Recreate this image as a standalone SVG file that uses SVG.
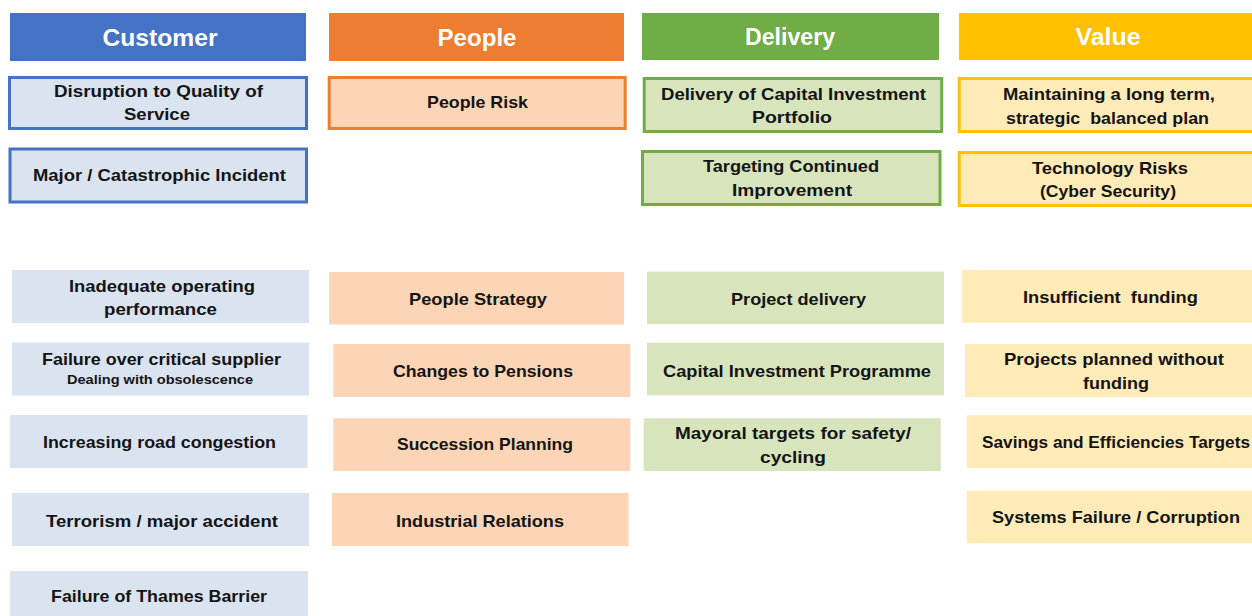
<svg xmlns="http://www.w3.org/2000/svg" width="1252" height="616" viewBox="0 0 1252 616">
<style>
text{font-family:"Liberation Sans",Arial,sans-serif;font-weight:bold;text-anchor:middle;fill:#141414;font-size:17px}
.h{fill:#fff;font-size:24px}
.sm{font-size:13px}
.pre{white-space:pre}
.hc{fill:#4472C4}.hp{fill:#ED7D31}.hd{fill:#70AD47}.hv{fill:#FFC000}
.fc{fill:#DAE3F0}.fp{fill:#FBD5B5}.fd{fill:#D8E4BC}.fv{fill:#FFEBB8}
.oc{stroke:#4472C4;stroke-width:3}.op{stroke:#ED7D31;stroke-width:3}.od{stroke:#70AD47;stroke-width:3}.ov{stroke:#FFC000;stroke-width:3}
</style>
<rect width="1252" height="616" fill="#fff"/>
<g id="headers">
<g id="h-customer"><rect class="hc" x="10" y="13" width="296" height="48"/><text class="h" x="160" y="46" textLength="115" lengthAdjust="spacingAndGlyphs">Customer</text></g>
<g id="h-people"><rect class="hp" x="329" y="13" width="295" height="48"/><text class="h" x="477" y="46" textLength="79" lengthAdjust="spacingAndGlyphs">People</text></g>
<g id="h-delivery"><rect class="hd" x="642" y="13" width="297" height="47"/><text class="h" x="790" y="45" textLength="90" lengthAdjust="spacingAndGlyphs">Delivery</text></g>
<g id="h-value"><rect class="hv" x="959" y="13" width="293" height="47"/><text class="h" x="1108" y="45" textLength="65" lengthAdjust="spacingAndGlyphs">Value</text></g>
</g>
<g id="key-risks">
<g id="c1"><rect class="fc oc" x="9.5" y="77.5" width="297" height="51"/><text x="158.5" y="96.5" textLength="209" lengthAdjust="spacingAndGlyphs">Disruption to Quality of</text><text x="157" y="120" textLength="66" lengthAdjust="spacingAndGlyphs">Service</text></g>
<g id="c2"><rect class="fc oc" x="10" y="149" width="296.5" height="53"/><text x="159.5" y="181" textLength="253" lengthAdjust="spacingAndGlyphs">Major / Catastrophic Incident</text></g>
<g id="p1"><rect class="fp op" x="329.2" y="77.5" width="296" height="51"/><text x="477.5" y="108" textLength="101" lengthAdjust="spacingAndGlyphs">People Risk</text></g>
<g id="d1"><rect class="fd od" x="644.2" y="78.5" width="297.5" height="53"/><text x="793.5" y="99.5" textLength="265" lengthAdjust="spacingAndGlyphs">Delivery of Capital Investment</text><text x="792" y="123" textLength="80" lengthAdjust="spacingAndGlyphs">Portfolio</text></g>
<g id="d2"><rect class="fd od" x="642.5" y="151.5" width="297.5" height="53"/><text x="791" y="172" textLength="176" lengthAdjust="spacingAndGlyphs">Targeting Continued</text><text x="792" y="196" textLength="120" lengthAdjust="spacingAndGlyphs">Improvement</text></g>
<g id="v1"><rect class="fv ov" x="959.2" y="78.5" width="300" height="53"/><text x="1109" y="99.5" textLength="212" lengthAdjust="spacingAndGlyphs">Maintaining a long term,</text><text class="pre" x="1107.5" y="123.5" textLength="203" lengthAdjust="spacingAndGlyphs">strategic  balanced plan</text></g>
<g id="v2"><rect class="fv ov" x="959.2" y="152.5" width="300" height="53"/><text x="1110" y="173.5" textLength="156" lengthAdjust="spacingAndGlyphs">Technology Risks</text><text x="1108" y="197" textLength="136" lengthAdjust="spacingAndGlyphs">(Cyber Security)</text></g>
</g>
<g id="customer-risks">
<g id="c3"><rect class="fc" x="12" y="270" width="297" height="53"/><text x="162" y="291.5" textLength="186" lengthAdjust="spacingAndGlyphs">Inadequate operating</text><text x="160.5" y="315" textLength="113" lengthAdjust="spacingAndGlyphs">performance</text></g>
<g id="c4"><rect class="fc" x="12" y="342.5" width="297" height="53"/><text x="161.5" y="365" textLength="239" lengthAdjust="spacingAndGlyphs">Failure over critical supplier</text><text class="sm" x="160" y="384" textLength="186" lengthAdjust="spacingAndGlyphs">Dealing with obsolescence</text></g>
<g id="c5"><rect class="fc" x="10" y="415" width="297.5" height="53"/><text x="159.5" y="448" textLength="233" lengthAdjust="spacingAndGlyphs">Increasing road congestion</text></g>
<g id="c6"><rect class="fc" x="12" y="493" width="297" height="53"/><text x="162" y="527" textLength="232" lengthAdjust="spacingAndGlyphs">Terrorism / major accident</text></g>
<g id="c7"><rect class="fc" x="10" y="571" width="298" height="50"/><text x="159" y="602" textLength="216" lengthAdjust="spacingAndGlyphs">Failure of Thames Barrier</text></g>
</g>
<g id="people-risks">
<g id="p2"><rect class="fp" x="329" y="272" width="295" height="52.5"/><text x="478" y="305" textLength="138" lengthAdjust="spacingAndGlyphs">People Strategy</text></g>
<g id="p3"><rect class="fp" x="333.3" y="344" width="297" height="53"/><text x="483" y="377" textLength="180" lengthAdjust="spacingAndGlyphs">Changes to Pensions</text></g>
<g id="p4"><rect class="fp" x="333.3" y="418.3" width="297" height="52.7"/><text x="485" y="450" textLength="176" lengthAdjust="spacingAndGlyphs">Succession Planning</text></g>
<g id="p5"><rect class="fp" x="332" y="493" width="296.5" height="53"/><text x="480" y="527" textLength="168" lengthAdjust="spacingAndGlyphs">Industrial Relations</text></g>
</g>
<g id="delivery-risks">
<g id="d3"><rect class="fd" x="647" y="271.7" width="297" height="52.3"/><text x="798.5" y="304.5" textLength="135" lengthAdjust="spacingAndGlyphs">Project delivery</text></g>
<g id="d4"><rect class="fd" x="647" y="342.7" width="297" height="52.6"/><text x="797" y="376.5" textLength="268" lengthAdjust="spacingAndGlyphs">Capital Investment Programme</text></g>
<g id="d5"><rect class="fd" x="643.7" y="418.3" width="297" height="52.7"/><text x="793" y="439" textLength="236" lengthAdjust="spacingAndGlyphs">Mayoral targets for safety/</text><text x="793" y="463" textLength="66" lengthAdjust="spacingAndGlyphs">cycling</text></g>
</g>
<g id="value-risks">
<g id="v3"><rect class="fv" x="961.7" y="270" width="295" height="52.7"/><text class="pre" x="1110.5" y="303" textLength="175" lengthAdjust="spacingAndGlyphs">Insufficient  funding</text></g>
<g id="v4"><rect class="fv" x="965" y="344" width="292" height="53"/><text x="1114" y="365" textLength="220" lengthAdjust="spacingAndGlyphs">Projects planned without</text><text x="1116" y="389" textLength="66" lengthAdjust="spacingAndGlyphs">funding</text></g>
<g id="v5"><rect class="fv" x="966.7" y="415.3" width="290" height="52.7"/><text x="1116" y="448" textLength="268" lengthAdjust="spacingAndGlyphs">Savings and Efficiencies Targets</text></g>
<g id="v6"><rect class="fv" x="966.7" y="490.7" width="290" height="52.6"/><text x="1116" y="522.5" textLength="248" lengthAdjust="spacingAndGlyphs">Systems Failure / Corruption</text></g>
</g>
</svg>
